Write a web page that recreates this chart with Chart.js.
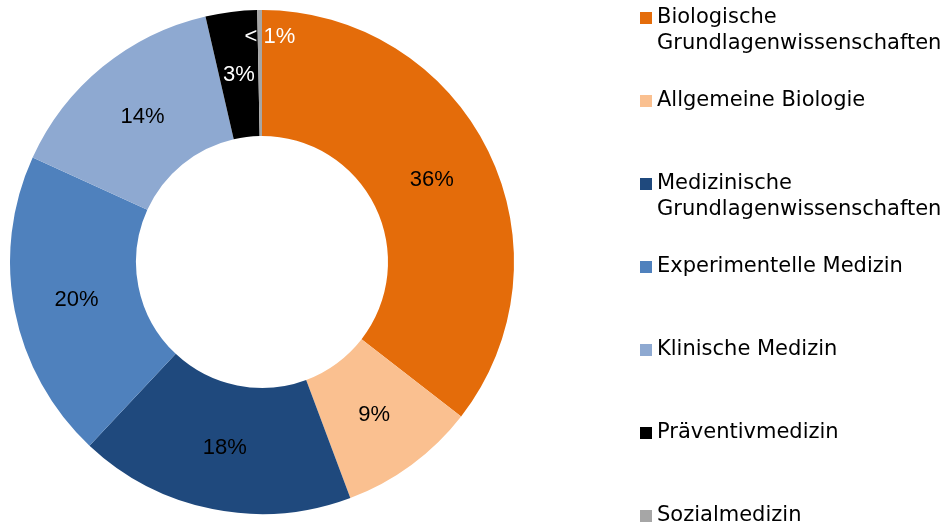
<!DOCTYPE html>
<html>
<head>
<meta charset="utf-8">
<script src="https://cdn.jsdelivr.net/npm/chart.js@4"></script>
<style>
  html, body { margin: 0; padding: 0; background: #ffffff; }
  #wrap { width: 947px; height: 526px; }
</style>
</head>
<body>
<div id="wrap"><canvas id="chart" width="947" height="526"></canvas></div>
<script>
const categories = [
  ['Biologische', 'Grundlagenwissenschaften'],
  ['Allgemeine Biologie'],
  ['Medizinische', 'Grundlagenwissenschaften'],
  ['Experimentelle Medizin'],
  ['Klinische Medizin'],
  ['Präventivmedizin'],
  ['Sozialmedizin'],
];
const shares = [35.5, 8.8, 17.7, 19.8, 14.6, 3.3, 0.3];
const sliceLabels = ['36%', '9%', '18%', '20%', '14%', '3%', '< 1%'];
const colors = ['#e46c0a', '#fac090', '#1f497d', '#4f81bd', '#8ea9d1', '#000000', '#a6a6a6'];
const labelColors = ['#000000', '#000000', '#000000', '#000000', '#000000', '#ffffff', '#ffffff'];

const sliceLabelPlugin = {
  id: 'sliceLabels',
  afterDatasetsDraw(chart) {
    const { ctx } = chart;
    const meta = chart.getDatasetMeta(0);
    ctx.save();
    ctx.font = "22px 'Liberation Sans', Arial, sans-serif";
    ctx.textAlign = 'center';
    ctx.textBaseline = 'middle';
    meta.data.forEach((arc, i) => {
      const mid = (arc.startAngle + arc.endAngle) / 2;
      let r = (arc.innerRadius + arc.outerRadius) / 2;
      let dx = 0;
      if (i === sliceLabels.length - 1) {
        // tiny slice: push label outward and to the right
        r = arc.outerRadius - 26;
        dx = 10;
      }
      const x = arc.x + Math.cos(mid) * r + dx;
      const y = arc.y + Math.sin(mid) * r + 1;
      ctx.fillStyle = labelColors[i];
      ctx.fillText(sliceLabels[i], x, y);
    });
    ctx.restore();
  },
};

const sideLegendPlugin = {
  id: 'sideLegend',
  afterDraw(chart) {
    const { ctx } = chart;
    const left = 640;
    const top = 18;
    const step = 83;
    const box = 12;
    const lineHeight = 26;
    ctx.save();
    ctx.font = "21px 'DejaVu Sans', Verdana, sans-serif";
    ctx.textAlign = 'left';
    ctx.textBaseline = 'middle';
    categories.forEach((lines, i) => {
      const y = top + i * step;
      ctx.fillStyle = colors[i];
      ctx.fillRect(left, y - box / 2, box, box);
      ctx.fillStyle = '#000000';
      lines.forEach((line, j) => {
        ctx.fillText(line, left + box + 5, y + j * lineHeight);
      });
    });
    ctx.restore();
  },
};

new Chart(document.getElementById('chart'), {
  type: 'doughnut',
  data: {
    labels: categories.map((lines) => lines.join(' ')),
    datasets: [
      {
        data: shares,
        backgroundColor: colors,
        borderWidth: 0,
        hoverOffset: 0,
        offset: 0,
      },
    ],
  },
  options: {
    responsive: false,
    animation: false,
    cutout: '50%',
    layout: {
      padding: { left: 10, top: 10, right: 433, bottom: 12 },
    },
    plugins: {
      legend: { display: false },
      tooltip: { enabled: false },
    },
  },
  plugins: [sliceLabelPlugin, sideLegendPlugin],
});
</script>
</body>
</html>
